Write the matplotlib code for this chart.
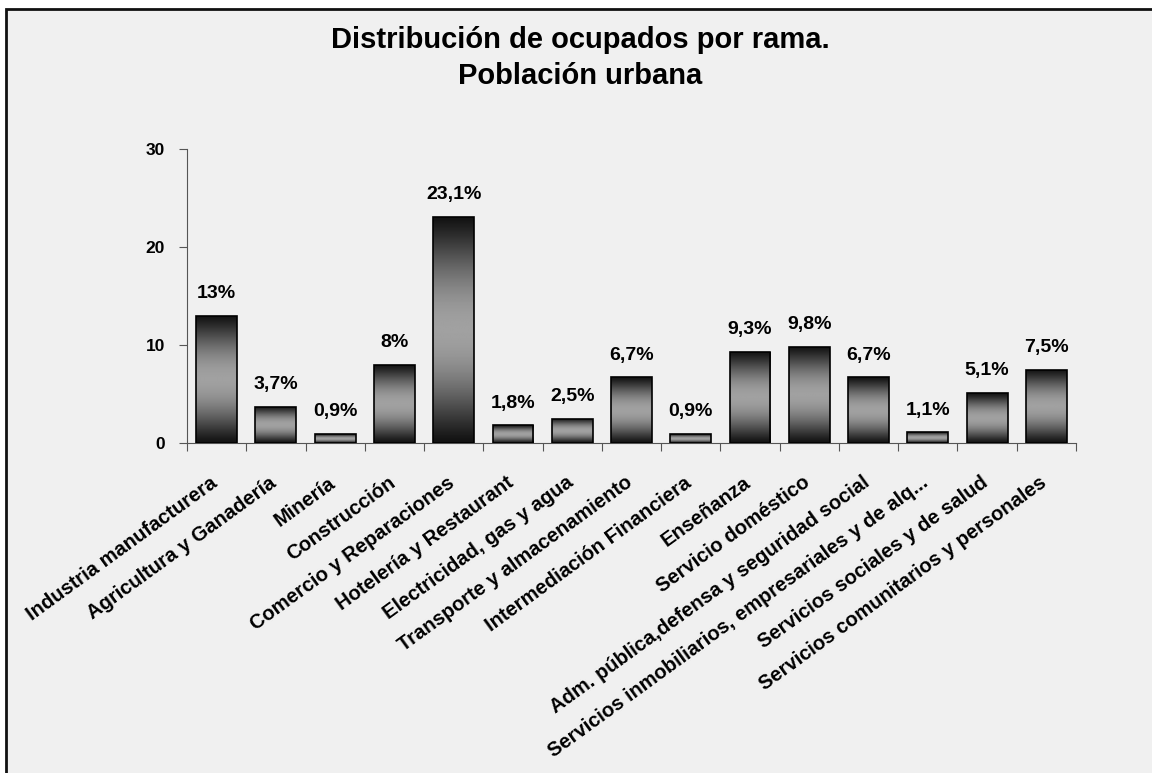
import matplotlib
matplotlib.use("Agg")
import matplotlib.pyplot as plt
import numpy as np
from matplotlib.patches import Rectangle
from matplotlib.transforms import ScaledTranslation

plt.rcParams['font.family'] = ['Liberation Sans', 'DejaVu Sans']
plt.rcParams['font.weight'] = 'bold'

categorias = ["Industria manufacturera", "Agricultura y Ganadería", "Minería",
              "Construcción", "Comercio y Reparaciones", "Hotelería y Restaurant",
              "Electricidad, gas y agua", "Transporte y almacenamiento",
              "Intermediación Financiera", "Enseñanza", "Servicio doméstico",
              "Adm. pública,defensa y seguridad social",
              "Servicios inmobiliarios, empresariales y de alq...",
              "Servicios sociales y de salud", "Servicios comunitarios y personales"]
valores = [13, 3.7, 0.9, 8, 23.1, 1.8, 2.5, 6.7, 0.9, 9.3, 9.8, 6.7, 1.1, 5.1, 7.5]
etiquetas = ["13%", "3,7%", "0,9%", "8%", "23,1%", "1,8%", "2,5%", "6,7%", "0,9%",
             "9,3%", "9,8%", "6,7%", "1,1%", "5,1%", "7,5%"]

bg = '#f0f0f0'
fig = plt.figure(figsize=(11.52, 7.73), dpi=100, facecolor='white')
# marco del gráfico
marco = Rectangle((6 / 1152, -0.1), 1.2, 1.1 - 9 / 773, transform=fig.transFigure,
                  facecolor=bg, edgecolor='#111111', linewidth=2, zorder=-5)
fig.patches.append(marco)

ax = fig.add_axes([187 / 1152, 1 - 443 / 773, (1076 - 187) / 1152, (443 - 149) / 773])
ax.set_facecolor('none')
ax.set_zorder(2)

x = np.arange(len(valores))
bars = ax.bar(x, valores, width=0.69, facecolor='none', edgecolor='black', linewidth=1.2, zorder=3)

# degradado vertical: oscuro arriba y abajo, claro al centro
t = np.linspace(0, 1, 256)
grad = 0.07 + 0.56 * np.sin(np.pi * t) ** 1.2
grad = grad.reshape(-1, 1)
for b in bars:
    x0, y0 = b.get_x(), b.get_y()
    w, h = b.get_width(), b.get_height()
    im = ax.imshow(grad, cmap='gray', vmin=0, vmax=1, aspect='auto',
                   extent=[x0, x0 + w, y0, y0 + h], zorder=2, interpolation='bilinear')
    im.set_clip_path(b)

for xi, v, lab in zip(x, valores, etiquetas):
    ax.text(xi, v + 1.4, lab, ha='center', va='bottom', fontsize=14, fontweight='bold')

ax.set_xlim(-0.5, len(valores) - 0.5)
ax.set_ylim(0, 30)
ax.set_yticks([0, 10, 20, 30])
ax.set_xticks(np.arange(-0.5, len(valores), 1))
ax.set_xticklabels([])

# etiquetas de categoría giradas, esquina superior derecha bajo cada barra
off = ax.get_xaxis_transform() + ScaledTranslation(-7 / 100, -30 / 100, fig.dpi_scale_trans)
for xi, cat in zip(x, categorias):
    ax.text(xi, 0, cat, transform=off, rotation=36, ha='right', va='top',
            rotation_mode='anchor', fontsize=14.5, fontweight='bold', clip_on=False)

ax.tick_params(axis='x', length=6, direction='out', color='#555555')
ax.tick_params(axis='y', length=6, direction='out', labelsize=12.5, pad=10, color='#555555')
for lbl in ax.get_yticklabels():
    lbl.set_fontweight('bold')
ax.spines['top'].set_visible(False)
ax.spines['right'].set_visible(False)
ax.spines['left'].set_color('#555555')
ax.spines['bottom'].set_color('#555555')

fig.text(580 / 1152, 1 - 40 / 773, "Distribución de ocupados por rama.", ha='center', va='center',
         fontsize=21, fontweight='bold')
fig.text(580 / 1152, 1 - 76 / 773, "Población urbana", ha='center', va='center',
         fontsize=21, fontweight='bold')

fig.savefig('out.png', dpi=100, facecolor='white')
